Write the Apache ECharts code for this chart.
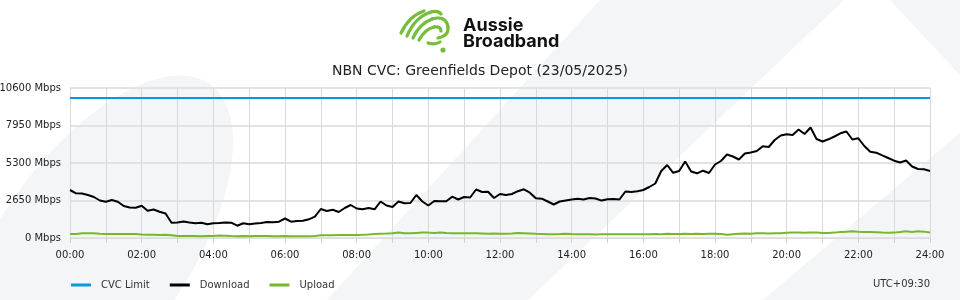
<!DOCTYPE html>
<html>
<head>
<meta charset="utf-8">
<script src="https://cdn.jsdelivr.net/npm/echarts@6/dist/echarts.min.js"></script>
<style>
html,body{margin:0;padding:0;background:#fff;}
#chart{width:960px;height:300px;}
</style>
</head>
<body>
<div id="chart"></div>
<script>
// ---- Data (10-minute samples, 00:00 .. 24:00) ----
var title = 'NBN CVC: Greenfields Depot (23/05/2025)';
var yTicks = [0, 2650, 5300, 7950, 10600];
var cvcLimitValue = 9900;

var download = [
  3392, 3159, 3145, 3039, 2897, 2650, 2565, 2685, 2565, 2261, 2155, 2141,
  2283, 1929, 2014, 1859, 1731, 1081, 1095, 1166, 1095, 1039, 1081, 968,
  1039, 1060, 1095, 1081, 869, 1039, 968, 1025, 1060, 1131, 1109, 1152,
  1378, 1152, 1201, 1223, 1321, 1505, 2049, 1908, 1993, 1837, 2120, 2332,
  2085, 2028, 2120, 2028, 2579, 2297, 2191, 2579, 2452, 2473, 3039, 2579,
  2297, 2615, 2593, 2601, 2919, 2721, 2897, 2862, 3427, 3251, 3272, 2827,
  3109, 3039, 3109, 3307, 3441, 3201, 2805, 2777, 2579, 2367, 2579, 2650,
  2721, 2777, 2721, 2827, 2791, 2643, 2735, 2756, 2721, 3286, 3251, 3300,
  3392, 3604, 3851, 4735, 5159, 4607, 4735, 5406, 4699, 4572, 4756, 4593,
  5194, 5441, 5901, 5759, 5547, 5971, 6042, 6148, 6487, 6431, 6925, 7243,
  7328, 7279, 7667, 7349, 7809, 6996, 6819, 6975, 7173, 7399, 7526, 6961,
  7045, 6501, 6091, 6028, 5837, 5653, 5463, 5335, 5477, 5053, 4876, 4855,
  4735
];

var upload = [
  280, 290, 330, 340, 330, 300, 290, 290, 290, 285, 280, 280,
  250, 230, 230, 220, 230, 200, 140, 140, 150, 140, 130, 140,
  140, 170, 160, 140, 130, 140, 130, 140, 150, 140, 130, 130,
  140, 120, 120, 120, 130, 140, 190, 200, 200, 210, 210, 210,
  220, 230, 250, 280, 300, 310, 330, 390, 340, 330, 360, 390,
  380, 350, 390, 360, 340, 340, 330, 330, 330, 320, 300, 310,
  300, 300, 320, 360, 340, 320, 300, 290, 270, 270, 280, 300,
  280, 270, 260, 260, 250, 260, 260, 260, 260, 270, 270, 260,
  260, 270, 290, 270, 300, 280, 290, 300, 280, 300, 290, 300,
  300, 290, 230, 270, 300, 320, 300, 330, 330, 320, 330, 340,
  370, 380, 380, 370, 390, 380, 360, 360, 380, 420, 450, 470,
  440, 420, 420, 400, 380, 370, 380, 420, 470, 430, 480, 450,
  390
];

// time slots every 10 minutes
var times = [];
for (var i = 0; i < download.length; i++) {
  var m = i * 10;
  var hh = Math.floor(m / 60), mm = m % 60;
  times.push((hh < 10 ? '0' : '') + hh + ':' + (mm < 10 ? '0' : '') + mm);
}
var cvcLimit = times.map(function () { return cvcLimitValue; });

var BG = '#f4f5f7';
var chart = echarts.init(document.getElementById('chart'), null, {renderer: 'canvas'});

var green = '#74be3c';
function stroke() { return {stroke: green, lineWidth: 3.2, fill: null, lineCap: 'round', lineJoin: 'round'}; }
function curve(x1, y1, cx, cy, x2, y2) {
  return {type: 'bezierCurve', z: 10, silent: true,
    shape: {x1: x1, y1: y1, cpx1: cx, cpy1: cy, x2: x2, y2: y2}, style: stroke()};
}

var option = {
  backgroundColor: '#ffffff',
  animation: false,
  textStyle: {fontFamily: 'DejaVu Sans'},
  title: {
    text: title,
    left: 'center',
    top: 59,
    textStyle: {fontFamily: 'DejaVu Sans', fontSize: 14, fontWeight: 'normal', color: '#222'}
  },
  legend: {
    left: 66,
    top: 275,
    itemWidth: 20,
    itemHeight: 3,
    itemGap: 20,
    icon: 'rect',
    textStyle: {fontFamily: 'DejaVu Sans', fontSize: 10, color: '#333', padding: [0, 0, 0, 5]},
    data: ['CVC Limit', 'Download', 'Upload']
  },
  grid: {left: 70, right: 30, top: 88, bottom: 62, containLabel: false, outerBoundsMode: 'none'},
  xAxis: {
    type: 'category',
    data: times,
    boundaryGap: false,
    axisLine: {show: true, lineStyle: {color: '#dcdcdc', width: 1}},
    axisTick: {show: true, length: 5, interval: function (idx) { return idx % 6 === 0; }, lineStyle: {color: '#d0d0d0'}},
    axisLabel: {
      interval: function (idx) { return idx % 12 === 0; },
      formatter: function (v, idx) { return idx === times.length - 1 ? '24:00' : v; },
      color: '#222', fontSize: 10, fontFamily: 'DejaVu Sans', margin: 12
    },
    splitLine: {show: true, interval: function (idx) { return idx % 6 === 0; }, lineStyle: {color: '#d9d9d9', width: 1}}
  },
  yAxis: {
    type: 'value',
    min: yTicks[0],
    max: yTicks[yTicks.length - 1],
    interval: yTicks[1] - yTicks[0],
    axisLine: {show: false},
    axisTick: {show: false},
    axisLabel: {formatter: function (v) { return v + ' Mbps'; }, color: '#222', fontSize: 10, fontFamily: 'DejaVu Sans', margin: 9},
    splitLine: {show: true, lineStyle: {color: '#e3e3e3', width: 2}}
  },
  series: [
    {name: 'CVC Limit', type: 'line', data: cvcLimit, showSymbol: false, symbol: 'none',
      lineStyle: {color: '#0b96d6', width: 2}, itemStyle: {color: '#0b96d6'}, z: 3},
    {name: 'Download', type: 'line', data: download, showSymbol: false, symbol: 'none',
      lineStyle: {color: '#000000', width: 2}, itemStyle: {color: '#000000'}, z: 4},
    {name: 'Upload', type: 'line', data: upload, showSymbol: false, symbol: 'none',
      lineStyle: {color: '#76b82a', width: 2}, itemStyle: {color: '#76b82a'}, z: 4}
  ],
  graphic: [
    // background decorative shapes
    {type: 'ellipse', z: -10, silent: true, x: 92, y: 252, rotation: 55 * Math.PI / 180,
      shape: {cx: 0, cy: 0, rx: 205, ry: 95}, style: {fill: BG}},
    {type: 'polygon', z: -10, silent: true,
      shape: {points: [[600, 0], [844, 0], [528, 300], [327, 300]]}, style: {fill: BG}},
    {type: 'polygon', z: -10, silent: true,
      shape: {points: [[763, 300], [960, 133], [960, 300]]}, style: {fill: BG}},
    {type: 'polygon', z: -10, silent: true,
      shape: {points: [[890, 0], [960, 0], [960, 75]]}, style: {fill: BG}},
    // logo
    curve(401, 33, 409, 16, 424, 11),
    curve(407, 36, 415, 17, 431, 12),
    curve(431, 12, 438, 10, 441, 14),
    curve(413, 38, 419, 24, 432, 19),
    curve(432, 19, 446, 15, 448, 27),
    curve(448, 27, 449, 36, 438, 38),
    curve(419, 40, 425, 29, 434, 27),
    curve(434, 27, 441, 26, 441, 31),
    curve(428, 43, 435, 45, 440, 42),
    {type: 'circle', z: 10, silent: true, shape: {cx: 443, cy: 50, r: 2.6}, style: {fill: green}},
    {type: 'text', z: 10, silent: true, x: 463, y: 35,
      style: {text: 'Aussie', fontFamily: 'Inter', fontWeight: 'bold', fontSize: 18, fill: '#111', verticalAlign: 'bottom'}},
    {type: 'text', z: 10, silent: true, x: 463, y: 51,
      style: {text: 'Broadband', fontFamily: 'Inter', fontWeight: 'bold', fontSize: 18, fill: '#111', verticalAlign: 'bottom'}},
    // timezone
    {type: 'text', z: 10, silent: true, x: 930, y: 284,
      style: {text: 'UTC+09:30', fontFamily: 'DejaVu Sans', fontSize: 10, fill: '#333', align: 'right', verticalAlign: 'middle'}}
  ]
};
chart.setOption(option);
</script>
</body>
</html>
